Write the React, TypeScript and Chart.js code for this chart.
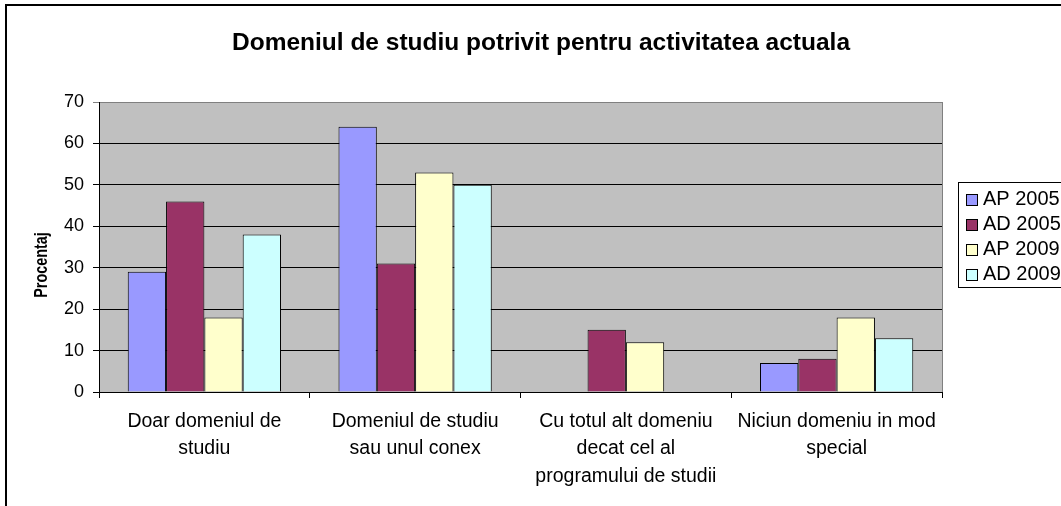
import React, { useEffect, useRef } from "react";
import { Chart, registerables } from "chart.js";

Chart.register(...registerables);

const categories: string[][] = [
  ["Doar domeniul de", "studiu"],
  ["Domeniul de studiu", "sau unul conex"],
  ["Cu totul alt domeniu", "decat cel al", "programului de studii"],
  ["Niciun domeniu in mod", "special"],
];
const seriesLabels = ["AP 2005", "AD 2005", "AP 2009", "AD 2009"];
const ap2005 = [29, 64, 0, 7];
const ad2005 = [46, 31, 15, 8];
const ap2009 = [18, 53, 12, 18];
const ad2009 = [38, 50, 0, 13];
const seriesColors = ["#9999FF", "#993366", "#FFFFCC", "#CCFFFF"];
const yMin = 0;
const yMax = 70;
const yStep = 10;
const titleText = "Domeniul de studiu potrivit pentru activitatea actuala";
const yAxisTitle = "Procentaj";

const FONT = "'Liberation Sans', Arial, Helvetica, sans-serif";

const decorPlugin = {
  id: "decor",
  beforeDraw(chart: any) {
    const { ctx, chartArea } = chart;
    ctx.save();
    ctx.fillStyle = "#ffffff";
    ctx.fillRect(0, 0, chart.width, chart.height);
    ctx.fillStyle = "#C0C0C0";
    ctx.fillRect(chartArea.left, chartArea.top, chartArea.right - chartArea.left, chartArea.bottom - chartArea.top);
    ctx.restore();
  },
  afterDraw(chart: any) {
    const { ctx, chartArea } = chart;
    ctx.save();
    // plot area right border
    ctx.strokeStyle = "#808080";
    ctx.lineWidth = 1;
    ctx.beginPath();
    ctx.moveTo(Math.round(chartArea.right) + 0.5, chartArea.top);
    ctx.lineTo(Math.round(chartArea.right) + 0.5, chartArea.bottom);
    ctx.stroke();

    // outer chart border (left & top visible)
    ctx.strokeStyle = "#000000";
    ctx.lineWidth = 2;
    ctx.beginPath();
    ctx.moveTo(6, chart.height + 2);
    ctx.lineTo(6, 5);
    ctx.lineTo(chart.width + 2, 5);
    ctx.stroke();

    // title
    ctx.fillStyle = "#000000";
    ctx.font = `bold 24.5px ${FONT}`;
    ctx.textAlign = "center";
    ctx.textBaseline = "alphabetic";
    ctx.fillText(titleText, 541, 50);

    // y axis title
    ctx.save();
    ctx.font = `bold 18px ${FONT}`;
    ctx.translate(47, 265);
    ctx.rotate(-Math.PI / 2);
    ctx.scale(0.8, 1);
    ctx.textAlign = "center";
    ctx.textBaseline = "alphabetic";
    ctx.fillText(yAxisTitle, 0, 0);
    ctx.restore();

    // legend
    const lx = 958.5;
    const ly = 182.5;
    ctx.strokeStyle = "#000000";
    ctx.lineWidth = 1;
    ctx.fillStyle = "#ffffff";
    ctx.fillRect(lx, ly, 200, 105);
    ctx.strokeRect(lx, ly, 200, 105);
    ctx.font = `20px ${FONT}`;
    ctx.textAlign = "left";
    ctx.textBaseline = "alphabetic";
    chart.data.datasets.forEach((ds: any, i: number) => {
      const base = 205 + i * 25;
      ctx.fillStyle = ds.backgroundColor;
      ctx.fillRect(966.5, base - 10.5, 11, 11);
      ctx.strokeStyle = "#000000";
      ctx.strokeRect(966.5, base - 10.5, 11, 11);
      ctx.fillStyle = "#000000";
      ctx.fillText(ds.label, 983, base);
    });
    ctx.restore();
  },
};

export default function App() {
  const ref = useRef<HTMLCanvasElement | null>(null);

  useEffect(() => {
    if (!ref.current) return;
    Chart.defaults.font.family = FONT;
    const seriesData = [ap2005, ad2005, ap2009, ad2009];
    const chart = new Chart(ref.current, {
      type: "bar",
      data: {
        labels: categories,
        datasets: seriesData.map((d, i) => ({
          label: seriesLabels[i],
          data: d,
          backgroundColor: seriesColors[i],
          borderColor: "#000000",
          borderWidth: 1,
          borderSkipped: "bottom",
          categoryPercentage: 4 / 5.5,
          barPercentage: 1,
        })),
      },
      options: {
        responsive: false,
        animation: false,
        layout: { padding: { left: 0, right: 119, top: 102, bottom: 0 } },
        plugins: {
          legend: { display: false },
          title: { display: false },
          tooltip: { enabled: false },
        },
        scales: {
          x: {
            afterFit: (s: any) => {
              s.height = 114;
            },
            grid: {
              offset: true,
              drawOnChartArea: false,
              drawTicks: true,
              tickLength: 6,
              color: "#000000",
            },
            border: { display: true, color: "#000000", width: 1 },
            ticks: {
              autoSkip: false,
              maxRotation: 0,
              minRotation: 0,
              color: "#000000",
              padding: 10,
              font: { size: 19.5, lineHeight: 1.4 },
            },
          },
          y: {
            min: yMin,
            max: yMax,
            afterFit: (s: any) => {
              s.width = 99;
            },
            grid: {
              color: (c: any) => (c.tick && c.tick.value === yMax ? "#808080" : "#000000"),
              drawTicks: true,
              tickLength: 6,
            },
            border: { display: true, color: "#000000", width: 1 },
            ticks: {
              stepSize: yStep,
              color: "#000000",
              padding: 9,
              font: { size: 18 },
            },
          },
        },
      },
      plugins: [decorPlugin],
    });
    return () => chart.destroy();
  }, []);

  return (
    <div style={{ position: "absolute", left: 0, top: 0, width: 1061, height: 506, overflow: "hidden", background: "#fff" }}>
      <canvas ref={ref} width={1061} height={506} style={{ width: 1061, height: 506, display: "block" }} />
    </div>
  );
}
